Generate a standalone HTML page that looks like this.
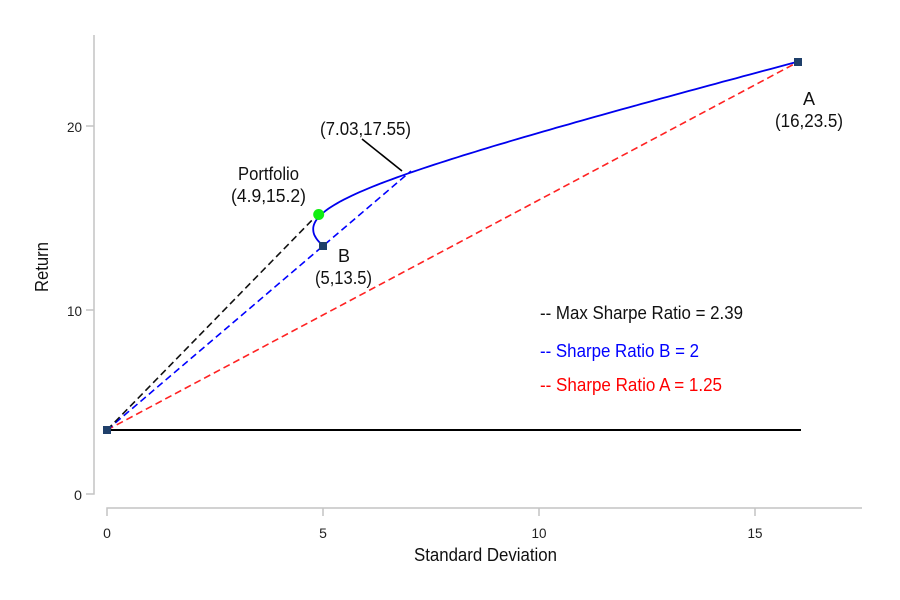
<!DOCTYPE html>
<html><head><style>body{margin:0;background:#fff}svg{display:block}text{font-family:"Liberation Sans",sans-serif}</style></head>
<body>
<svg id="s" width="900" height="600" viewBox="0 0 900 600">
<g stroke="#c4c4c4" stroke-width="1.5" fill="none">
<path d="M94,35V494H86M94,310H86M94,126H86"/>
<path d="M107,516V508H862M323,508V516M539,508V516M755,508V516"/>
</g>
<g font-size="14" fill="#222" text-anchor="end">
<text x="82" y="500" textLength="8" lengthAdjust="spacingAndGlyphs">0</text><text x="82" y="316" textLength="15" lengthAdjust="spacingAndGlyphs">10</text><text x="82" y="132" textLength="15" lengthAdjust="spacingAndGlyphs">20</text>
</g>
<g font-size="14" fill="#222" text-anchor="middle">
<text x="107" y="538">0</text><text x="323" y="538">5</text><text x="539" y="538" textLength="15" lengthAdjust="spacingAndGlyphs">10</text><text x="755" y="538" textLength="15" lengthAdjust="spacingAndGlyphs">15</text>
</g>
<text x="414" y="561" font-size="18" fill="#111" textLength="143" lengthAdjust="spacingAndGlyphs">Standard Deviation</text>
<text transform="translate(48,292) rotate(-90)" font-size="18" fill="#111" textLength="50" lengthAdjust="spacingAndGlyphs">Return</text>
<line x1="107" y1="430" x2="801" y2="430" stroke="#000" stroke-width="2"/>
<g stroke-width="1.6" stroke-dasharray="7,4" fill="none">
<line x1="107" y1="430" x2="798" y2="62" stroke="#f22"/>
<line x1="107" y1="430" x2="411" y2="171" stroke="#00f"/>
<line x1="107" y1="430" x2="318" y2="214" stroke="#111"/>
</g>
<path id="f" fill="none" stroke="#00e" stroke-width="1.8"/>
<line x1="362" y1="139" x2="402" y2="171" stroke="#000" stroke-width="1.6"/>
<rect x="103" y="426" width="8" height="8" fill="#1f3f6a"/>
<rect x="319" y="242" width="8" height="8" fill="#1f3f6a"/>
<rect x="794" y="58" width="8" height="8" fill="#1f3f6a"/>
<circle cx="318.7" cy="214.5" r="5.5" fill="#1e1"/>
<g font-size="18" fill="#111" lengthAdjust="spacingAndGlyphs">
<text x="238" y="180" textLength="61" lengthAdjust="spacingAndGlyphs">Portfolio</text>
<text x="231" y="202" textLength="75" lengthAdjust="spacingAndGlyphs">(4.9,15.2)</text>
<text x="338" y="262">B</text>
<text x="315" y="284" textLength="57" lengthAdjust="spacingAndGlyphs">(5,13.5)</text>
<text x="320" y="135" textLength="91" lengthAdjust="spacingAndGlyphs">(7.03,17.55)</text>
<text x="803" y="105">A</text>
<text x="775" y="127" textLength="68" lengthAdjust="spacingAndGlyphs">(16,23.5)</text>
</g>
<g font-size="18">
<text x="540" y="319" fill="#111" textLength="203" lengthAdjust="spacingAndGlyphs">-- Max Sharpe Ratio = 2.39</text>
<text x="540" y="357" fill="#00f" textLength="159" lengthAdjust="spacingAndGlyphs">-- Sharpe Ratio B = 2</text>
<text x="540" y="391" fill="#f00" textLength="182" lengthAdjust="spacingAndGlyphs">-- Sharpe Ratio A = 1.25</text>
</g>
</svg>
<script>
var d="";for(var i=0;i<=100;i++){var w=i/100,r=13.5+10*w,sd=Math.sqrt((1-w)*(1-w)*25+w*w*256);var x=107+43.2*sd,y=494-18.4*r;d+=(i?"L":"M")+x.toFixed(1)+","+y.toFixed(1);}
document.getElementById("f").setAttribute("d",d);
</script>
</body></html>
